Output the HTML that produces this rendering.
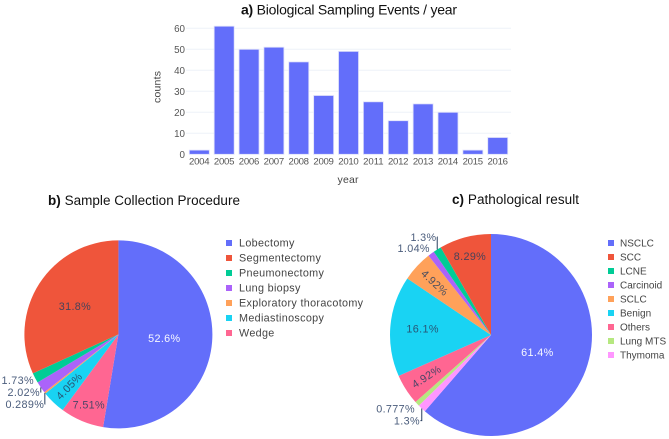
<!DOCTYPE html>
<html>
<head>
<meta charset="utf-8">
<title>Biological sampling charts</title>
<style>
html,body{margin:0;padding:0;background:#fff;}
svg{display:block;font-family:"Liberation Sans",sans-serif;}
</style>
</head>
<body>
<svg id="chart" xmlns="http://www.w3.org/2000/svg" width="669" height="439" viewBox="0 0 669 439">
<rect width="669" height="439" fill="#fff"/>
<text x="241" y="14.5" font-size="14" fill="#111" textLength="216" lengthAdjust="spacing"><tspan font-weight="bold">a)</tspan> Biological Sampling Events / year</text>
<text x="48" y="205" font-size="13.5" fill="#111" textLength="192" lengthAdjust="spacing"><tspan font-weight="bold">b)</tspan> Sample Collection Procedure</text>
<text x="452" y="204" font-size="13.5" fill="#111" textLength="127" lengthAdjust="spacing"><tspan font-weight="bold">c)</tspan> Pathological result</text>
<text x="348" y="183" font-size="10.5" fill="#444" text-anchor="middle" textLength="21" lengthAdjust="spacing">year</text>
<text transform="translate(160.5,87) rotate(-90)" font-size="10.5" fill="#444" text-anchor="middle" textLength="32" lengthAdjust="spacing">counts</text>
</svg>
<script>
const years = ["2004","2005","2006","2007","2008","2009","2010","2011","2012","2013","2014","2015","2016"];
const counts = [2,61,50,51,44,28,49,25,16,24,20,2,8];
const yTicks = [0,10,20,30,40,50,60];
const procedureNames = ["Lobectomy","Wedge","Mediastinoscopy","Exploratory thoracotomy","Lung biopsy","Pneumonectomy","Segmentectomy"];
const procedureValues = [52.6,7.51,4.05,0.289,2.02,1.73,31.8];
const procedureLegend = ["Lobectomy","Segmentectomy","Pneumonectomy","Lung biopsy","Exploratory thoracotomy","Mediastinoscopy","Wedge"];
const pathologyNames = ["NSCLC","Thymoma","Lung MTS","Others","Benign","SCLC","Carcinoid","LCNE","SCC"];
const pathologyValues = [61.4,1.3,0.777,4.92,16.1,4.92,1.04,1.3,8.29];
const pathologyLegend = ["NSCLC","SCC","LCNE","Carcinoid","SCLC","Benign","Others","Lung MTS","Thymoma"];
const palette = {"Lobectomy":"#636efa","Segmentectomy":"#ef553b","Pneumonectomy":"#00cc96","Lung biopsy":"#ab63fa","Exploratory thoracotomy":"#ffa15a","Mediastinoscopy":"#19d3f3","Wedge":"#ff6692",
"NSCLC":"#636efa","SCC":"#ef553b","LCNE":"#00cc96","Carcinoid":"#ab63fa","SCLC":"#ffa15a","Benign":"#19d3f3","Others":"#ff6692","Lung MTS":"#b6e880","Thymoma":"#ff97ff"};

const svg = document.getElementById('chart');
const NS = 'http://www.w3.org/2000/svg';
function mk(tag, attrs, txt){
  const e = document.createElementNS(NS, tag);
  for(const k in attrs) e.setAttribute(k, attrs[k]);
  if(txt !== undefined) e.textContent = txt;
  svg.appendChild(e);
  return e;
}

/* bar chart axes */
const xScale = i => 199.3 + i * 24.87;
const yScale = v => 154.3 - v * 2.1;

yTicks.forEach(t => {
  if(t > 0){
    const g = mk('line',{x1:186,x2:511,y1:yScale(t),y2:yScale(t),stroke:'#eef2f8','stroke-width':1});
    
    
  }
  const l = mk('text',{x:185,y:yScale(t)+3.5,'font-size':9.8,fill:'#555','text-anchor':'end'},String(t));
  
  
});
counts.forEach((v,i) => {
  const b = mk('rect',{x:xScale(i)-10,y:yScale(v),width:20,height:yScale(0)-yScale(v),fill:'#636efa',stroke:'#dfe1fb','stroke-width':0.8});
  
  
  const l = mk('text',{x:xScale(i),y:164.5,'font-size':9.6,fill:'#555','text-anchor':'middle',textLength:20.5,lengthAdjust:'spacing'},years[i]);
  
  
});

/* pies */
function polar(cx,cy,r,deg){
  const a = deg * Math.PI / 180;
  return [cx + r * Math.sin(a), cy - r * Math.cos(a)];
}
function drawPie(cx,cy,r,names,values,prefix,outerFactor){
  const total = values.reduce((a,b)=>a+b,0);
  let cum = 0;
  const outside = [];
  values.forEach((v,i) => {
    const start = cum / total * 360;
    cum += v;
    const end = cum / total * 360;
    const p0 = polar(cx,cy,r,start), p1 = polar(cx,cy,r,end);
    const large = end - start > 180 ? 1 : 0;
    const s = mk('path',{d:`M${cx} ${cy}L${p0[0]} ${p0[1]}A${r} ${r} 0 ${large} 1 ${p1[0]} ${p1[1]}Z`,fill:palette[names[i]]});
    
    
  });
  cum = 0;
  values.forEach((v,i) => {
    const mid = (cum + v / 2) / total * 360;
    cum += v;
    const pct = v / total * 100;
    const label = v.toPrecision(3).replace(/(\.\d*?)0+$/,'$1').replace(/\.$/,'') + '%';
    if(pct < 2.5){
      const out = polar(cx,cy,r*outerFactor,mid);
      outside.push({mid, label, x:out[0], y:out[1], y0:out[1], edge:polar(cx,cy,r,mid)});
      return;
    }
    const factor = pct >= 40 ? 0.49 : pct >= 25 ? 0.55 : pct >= 12 ? 0.68 : pct >= 6 ? 0.81 : 0.76;
    const c = polar(cx,cy,r*factor,mid);
    const rot = pct < 6 ? mid - 270 : 0;
    const t = mk('text',{transform:`translate(${c[0]},${c[1]}) rotate(${rot})`,y:3.8,'font-size':10.8,'letter-spacing':0.35,'text-anchor':'middle',fill:pct >= 50 ? '#fff' : '#2a3f5f','fill-opacity':pct >= 50 ? 0.95 : 0.85},label);
    
    
  });
  /* outside labels pushed apart vertically */
  const lower = outside.filter(o => Math.cos(o.mid*Math.PI/180) < 0).sort((a,b)=>b.mid-a.mid);
  const upper = outside.filter(o => Math.cos(o.mid*Math.PI/180) >= 0).sort((a,b)=>a.mid-b.mid);
  for(let i=1;i<lower.length;i++) if(lower[i].y < lower[i-1].y + 12) lower[i].y = lower[i-1].y + 12;
  for(let i=1;i<upper.length;i++) if(upper[i].y > upper[i-1].y - 11) upper[i].y = upper[i-1].y - 11;
  outside.forEach(o => {
    const t = mk('text',{x:o.x+3,y:o.y+3.8,'font-size':10.8,'letter-spacing':0.35,'text-anchor':'end',fill:'#4b5d7c'},o.label);
    
    
    if(Math.abs(o.y - o.y0) > 2){
      const ln = mk('polyline',{points:`${o.x+3.5},${o.y} ${o.edge[0]},${o.y} ${o.edge[0]},${o.edge[1]}`,fill:'none',stroke:'#2a3f5f','stroke-width':1});
      
      
    }
  });
}
drawPie(118.4,334.4,94,procedureNames,procedureValues,'procedure',1.05);
drawPie(491,335,101,pathologyNames,pathologyValues,'pathology',1.07);

/* legends */
function drawLegend(names,swatchX,textX,top,step,prefix,size,spacing){
  names.forEach((n,i) => {
    const y = top + i * step;
    const s = mk('rect',{x:swatchX,y:y-3,width:6,height:6,fill:palette[n]});
    
    
    const t = mk('text',{x:textX,y:y+3.6,'font-size':size,fill:'#444','letter-spacing':spacing},n);
    
    
  });
}
drawLegend(procedureLegend,226,239,243,15,'procedure',10.8,0.32);
drawLegend(pathologyLegend,608,620,243,14,'pathology',10,0);
</script>
</body>
</html>
